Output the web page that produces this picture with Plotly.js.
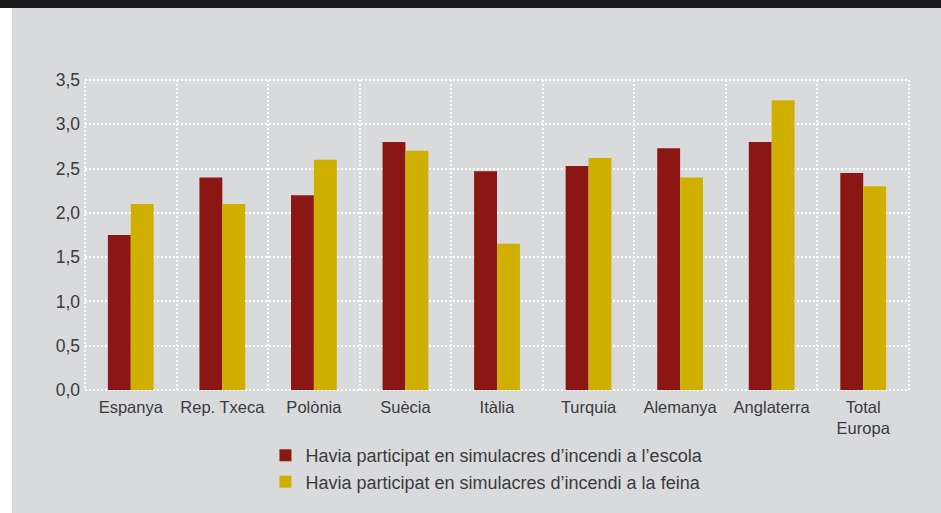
<!DOCTYPE html>
<html>
<head>
<meta charset="utf-8">
<script src="https://cdn.plot.ly/plotly-3.0.1.min.js"></script>
<style>
  html, body { margin: 0; padding: 0; background: #ffffff; }
  #wrap { position: relative; width: 941px; height: 513px; overflow: hidden; }
  #chart { position: absolute; left: 0; top: 0; width: 941px; height: 513px; }
  #topbar { position: absolute; left: 0; top: 0; width: 941px; height: 8px; background: #1c1b1e; }
  #leftstrip { position: absolute; left: 0; top: 8px; width: 12px; height: 505px; background: #ffffff; }
</style>
</head>
<body>
<div id="wrap">
  <div id="chart"></div>
  <div id="topbar"></div>
  <div id="leftstrip"></div>
</div>
<script>
const categories = ["Espanya", "Rep. Txeca", "Polònia", "Suècia", "Itàlia", "Turquia", "Alemanya", "Anglaterra", "Total<br>Europa"];
const escolaValues = [1.75, 2.40, 2.20, 2.80, 2.47, 2.53, 2.73, 2.80, 2.45];
const feinaValues  = [2.10, 2.10, 2.60, 2.70, 1.65, 2.62, 2.40, 3.27, 2.30];
const seriesNames = [
  "Havia participat en simulacres d’incendi a l’escola",
  "Havia participat en simulacres d’incendi a la feina"
];
const yTickValues = [0, 0.5, 1, 1.5, 2, 2.5, 3, 3.5];

const textColor = "#3a3a3c";
const fontFamily = "'Liberation Sans', Arial, sans-serif";
const gridDash = "2px,2px";

const traces = [
  { type: "bar", x: categories, y: escolaValues, name: seriesNames[0],
    marker: { color: "#8b1714", line: { width: 0 } }, hoverinfo: "skip" },
  { type: "bar", x: categories, y: feinaValues, name: seriesNames[1],
    marker: { color: "#cfb000", line: { width: 0 } }, hoverinfo: "skip" }
];

const layout = {
  width: 941, height: 513,
  margin: { l: 85, r: 32, t: 80, b: 123, pad: 0 },
  paper_bgcolor: "#d9dadc",
  plot_bgcolor: "#d9dadc",
  barmode: "group",
  bargap: 0.5,
  bargroupgap: 0,
  separators: ",.",
  font: { family: fontFamily, size: 16, color: textColor },
  showlegend: true,
  legend: {
    orientation: "v",
    x: 0.219, xanchor: "left",
    y: -0.152, yanchor: "top",
    bgcolor: "rgba(0,0,0,0)",
    font: { family: fontFamily, size: 18, color: textColor },
    tracegroupgap: 0
  },
  xaxis: {
    type: "category",
    tickson: "boundaries",
    tickangle: 0,
    automargin: false,
    showgrid: true,
    gridcolor: "#ffffff",
    gridwidth: 2,
    griddash: gridDash,
    ticks: "",
    showline: false,
    zeroline: false,
    ticklabelstandoff: 5,
    tickfont: { family: fontFamily, size: 16.5, color: textColor },
    fixedrange: true
  },
  yaxis: {
    range: [0, 3.5],
    tickvals: yTickValues,
    tickformat: ".1f",
    automargin: false,
    showgrid: true,
    gridcolor: "#ffffff",
    gridwidth: 2,
    griddash: gridDash,
    zeroline: false,
    showline: false,
    ticks: "",
    ticklabelstandoff: 4,
    tickfont: { family: fontFamily, size: 17.5, color: textColor },
    fixedrange: true
  },
  shapes: [{
    type: "rect", xref: "paper", yref: "paper",
    x0: 0, x1: 1, y0: 0, y1: 1,
    line: { color: "#ffffff", width: 2, dash: gridDash },
    fillcolor: "rgba(0,0,0,0)", layer: "below"
  }]
};

Plotly.newPlot("chart", traces, layout, { displayModeBar: false, staticPlot: true });
</script>
</body>
</html>
